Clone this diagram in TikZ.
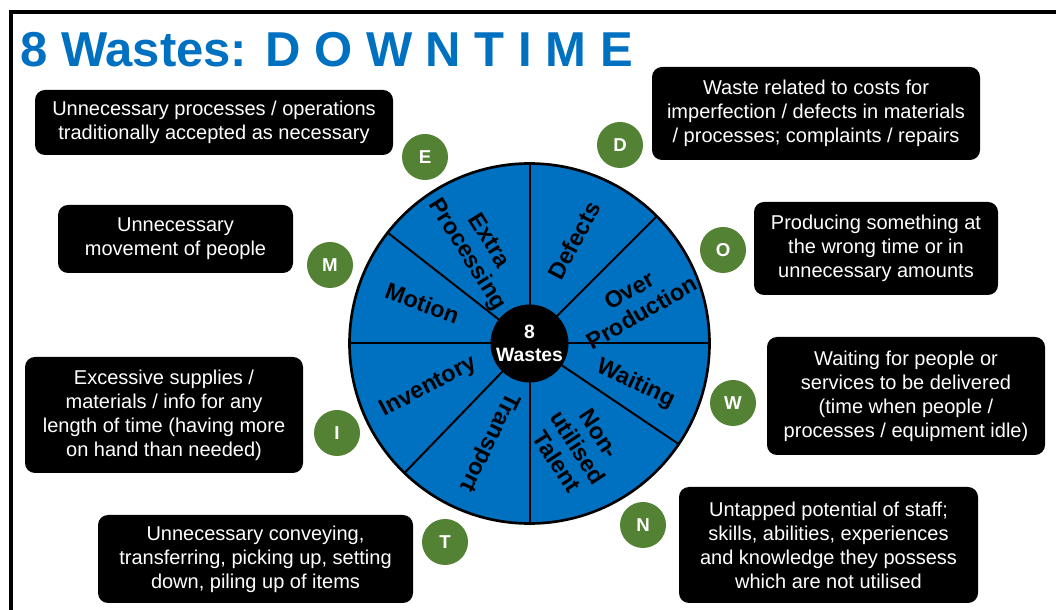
\documentclass[tikz,border=0pt]{standalone}
\usepackage{fontspec}
\setmainfont{Liberation Sans}
\usepackage{tikz}

\definecolor{titleblue}{RGB}{0,112,192}
\definecolor{wheelblue}{RGB}{0,112,192}
\definecolor{lettergreen}{RGB}{84,130,53}

\begin{document}
\begin{tikzpicture}[x=0.75pt,y=0.75pt,
  desc/.style={fill=black, text=white, rounded corners=7.5pt, align=center, inner sep=0pt, font=\fontsize{15}{18}\selectfont},
  letter/.style={circle, fill=lettergreen, text=white, minimum size=34.5pt, inner sep=0pt, font=\fontsize{14}{14}\selectfont\bfseries},
  waste/.style={align=center, inner sep=0pt, font=\fontsize{17.5}{19}\selectfont\bfseries}]

\useasboundingbox (0,0) rectangle (1056,610);
\draw[line width=3pt] (10.5,0) -- (10.5,597.5) -- (1056,597.5);

\node[anchor=base west, inner sep=0pt, text=titleblue, font=\fontsize{36.75}{40}\selectfont\bfseries] (title) at (20,543) {8 Wastes: D O W N T I M E};

% the wheel
\begin{scope}[shift={(529.5,266.5)}]
\fill[wheelblue] (0,0) circle (180);
\foreach \a in {90,45,0,-34,-90,-134,180,142}
  \draw[line width=1.5pt] (0,0) -- (\a:180);
\draw[line width=2pt] (0,0) circle (180);
\node[circle, fill=black, text=white, minimum size=58.5pt, inner sep=0pt, align=center, font=\fontsize{14.5}{17}\selectfont\bfseries] (hub) at (0,0) {8\\Wastes};

\node[waste, rotate=-58] (extra) at (118.7:108.6) {Extra\\Processing};
\node[waste, rotate=62] (defects) at (66.6:112) {Defects};
\node[waste, rotate=30] (over) at (21.5:114) {Over\\Production};
\node[waste, rotate=-25] (waiting) at (-20.9:113.5) {Waiting};
\node[waste, rotate=-57] (talent) at (-65:115) {Non-\\utilised\\Talent};
\node[waste, rotate=-116] (transport) at (-112.4:106.5) {Transport};
\node[waste, rotate=28] (inventory) at (203.4:110) {Inventory};
\node[waste, rotate=-20] (motion) at (159.4:114.5) {Motion};
\end{scope}

% letters
\node[letter] (D) at (620,465) {D};
\node[letter] (O) at (723,360) {O};
\node[letter] (W) at (733,207) {W};
\node[letter] (N) at (643,85) {N};
\node[letter] (T) at (445,68) {T};
\node[letter] (I) at (337,177) {I};
\node[letter] (M) at (330,345) {M};
\node[letter] (E) at (425,453) {E};

% descriptions
\node[desc, minimum width=246pt, minimum height=69.75pt] (Dbox) at (816,496.5)
  {Waste related to costs for\\imperfection / defects in materials\\/ processes; complaints / repairs};
\node[desc, minimum width=183pt, minimum height=69.75pt] (Obox) at (876,361.5)
  {Producing something at\\the wrong time or in\\unnecessary amounts};
\node[desc, minimum width=208.5pt, minimum height=88.5pt] (Wbox) at (906,214)
  {Waiting for people or\\services to be delivered\\(time when people /\\processes / equipment idle)};
\node[desc, minimum width=224.25pt, minimum height=87pt] (Nbox) at (828.5,65)
  {Untapped potential of staff;\\skills, abilities, experiences\\and knowledge they possess\\which are not utilised};
\node[desc, minimum width=236.25pt, minimum height=66pt] (Tbox) at (255.5,51)
  {Unnecessary conveying,\\transferring, picking up, setting\\down, piling up of items};
\node[desc, minimum width=208.5pt, minimum height=87pt] (Ibox) at (164,195)
  {Excessive supplies /\\materials / info for any\\length of time (having more\\on hand than needed)};
\node[desc, minimum width=176.25pt, minimum height=51pt] (Mbox) at (175.5,371)
  {Unnecessary\\movement of people};
\node[desc, minimum width=268.5pt, minimum height=48.75pt] (Ebox) at (214,487.5)
  {Unnecessary processes / operations\\traditionally accepted as necessary};

\end{tikzpicture}
\end{document}
